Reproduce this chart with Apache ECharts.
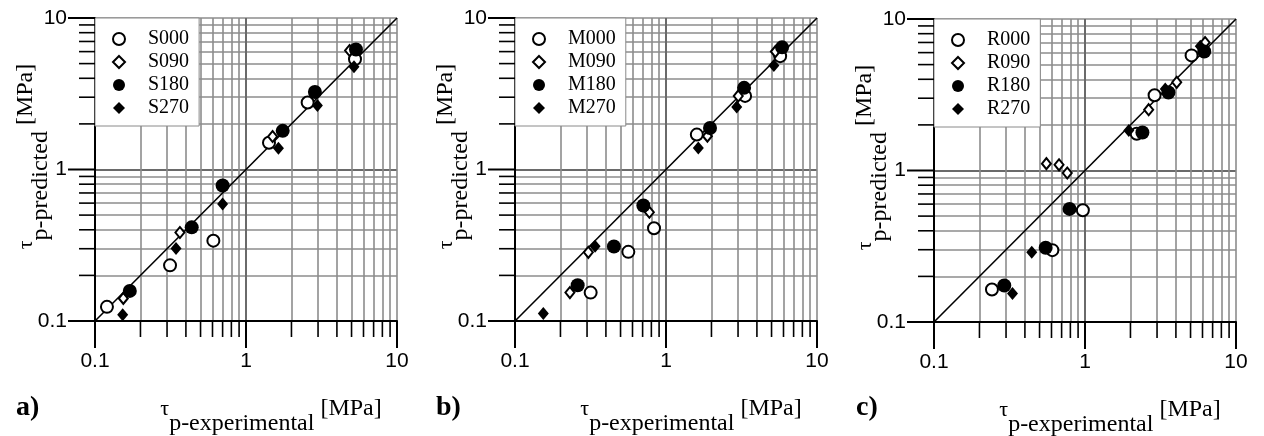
<!DOCTYPE html>
<html>
<head>
<meta charset="utf-8">
<script src="https://cdn.jsdelivr.net/npm/echarts@6/dist/echarts.min.js"></script>
<style>
  html, body { margin: 0; padding: 0; background: #ffffff; }
  #chart { width: 1264px; height: 436px; }
</style>
</head>
<body>
<div id="chart"></div>
<script>
// Log-paper tick positions shared by every panel
const majorTicks = [0.1, 1, 10];
const minorTicks = [0.2, 0.3, 0.4, 0.5, 0.6, 0.7, 0.8, 0.9, 2, 3, 4, 5, 6, 7, 8, 9, 10];
// Line of perfect agreement, predicted = experimental
const diagonal = [0.1, 10];

// Panel a) - S specimens, [experimental, predicted] in MPa
const S000 = [[0.12, 0.124], [0.314, 0.233], [0.608, 0.339], [1.42, 1.5], [2.56, 2.77], [5.27, 5.35]];
const S090 = [[0.154, 0.141], [0.365, 0.384], [1.5, 1.65], [4.85, 6.1]];
const S180 = [[0.17, 0.158], [0.437, 0.415], [0.7, 0.784], [1.75, 1.8], [2.86, 3.25], [5.35, 6.2]];
const S270 = [[0.1525, 0.11], [0.344, 0.301], [0.7, 0.593], [1.64, 1.38], [2.97, 2.65], [5.19, 4.76]];

// Panel b) - M specimens
const M000 = [[0.317, 0.154], [0.563, 0.286], [0.833, 0.409], [1.6, 1.7], [3.34, 3.06], [5.7, 5.6]];
const M090 = [[0.231, 0.154], [0.306, 0.284], [0.776, 0.522], [1.88, 1.66], [3.01, 3.06], [5.3, 6.0]];
const M180 = [[0.26, 0.172], [0.452, 0.31], [0.708, 0.578], [1.956, 1.878], [3.29, 3.46], [5.87, 6.4]];
const M270 = [[0.154, 0.112], [0.339, 0.311], [1.637, 1.384], [2.94, 2.59], [5.18, 4.85]];

// Panel c) - R specimens
const R000 = [[0.242, 0.164], [0.608, 0.298], [0.968, 0.547], [2.2, 1.75], [2.89, 3.14], [5.08, 5.75]];
const R090 = [[0.555, 1.11], [0.673, 1.09], [0.763, 0.963], [2.64, 2.52], [4.05, 3.82], [6.24, 7.0]];
const R180 = [[0.292, 0.174], [0.549, 0.309], [0.79, 0.558], [2.4, 1.78], [3.57, 3.27], [6.16, 6.1]];
const R270 = [[0.331, 0.1545], [0.444, 0.289], [1.95, 1.84], [3.4, 3.45], [5.8, 6.6]];

const panelLabels = ['a)', 'b)', 'c)'];
const seriesNames = [
  ['S000', 'S090', 'S180', 'S270'],
  ['M000', 'M090', 'M180', 'M270'],
  ['R000', 'R090', 'R180', 'R270']
];
const seriesData = [
  [S000, S090, S180, S270],
  [M000, M090, M180, M270],
  [R000, R090, R180, R270]
];

const SERIF = 'Liberation Serif';
const SANS = 'Liberation Sans';

// Plot-area placement of the three panels
const layout = [
  { left: 95, top: 18, labelLeft: 16 },
  { left: 515, top: 18, labelLeft: 436 },
  { left: 934, top: 19, labelLeft: 856 }
];
const PLOT_W = 302, PLOT_H = 303;
const MAJOR_TICK = 27, MINOR_TICK = 16;

// Marker per loading direction: open circle, open diamond, filled circle, filled diamond
const markers = [
  { symbol: 'circle', symbolSize: 12, itemStyle: { color: '#ffffff', borderColor: '#000000', borderWidth: 2, opacity: 1 } },
  { symbol: 'diamond', symbolSize: [9, 11], itemStyle: { color: '#ffffff', borderColor: '#000000', borderWidth: 2, opacity: 1 } },
  { symbol: 'circle', symbolSize: 14, itemStyle: { color: '#000000', opacity: 1 } },
  { symbol: 'diamond', symbolSize: [11, 13], itemStyle: { color: '#000000', opacity: 1 } }
];

const tickFormatter = v => String(+Number(v).toPrecision(3));

// Subscripted axis title: "τ" and "[MPa]" sit higher than the subscript text
function nameStyle(shift) {
  return {
    fontFamily: SERIF,
    color: '#000000',
    padding: [0, 0, 0, shift],
    rich: {
      t: { fontFamily: SERIF, fontSize: 22, lineHeight: 26, padding: [0, 0, 30, 0], color: '#000000' },
      s: { fontFamily: SERIF, fontSize: 24, lineHeight: 26, color: '#000000' },
      u: { fontFamily: SERIF, fontSize: 24, lineHeight: 26, padding: [0, 0, 30, 0], color: '#000000' }
    }
  };
}

function majorAxis(gridIndex, position, isX) {
  return {
    type: 'log', logBase: 10, gridIndex, position, min: 0.1, max: 10,
    axisLine: { show: true, onZero: false, lineStyle: { color: '#000000', width: 2 } },
    axisTick: { show: false },
    axisLabel: {
      show: true, margin: isX ? 30 : 28,
      fontFamily: SANS, fontSize: 21, color: '#000000', formatter: tickFormatter
    },
    splitLine: { show: true, showMinLine: false, showMaxLine: false, lineStyle: { color: '#6a6a6a', width: 2 } },
    name: isX ? '{t|τ}{s|p-experimental}{u| [MPa]}' : '{t|τ}{s|p-predicted}{u| [MPa]}',
    nameLocation: 'middle',
    nameMoveOverlap: false,
    nameGap: isX ? 90 : 41,
    nameTextStyle: nameStyle(isX ? 50 : 26)
  };
}

function minorAxis(gridIndex, position) {
  return {
    type: 'log', logBase: 10, gridIndex, position, min: 0.1, max: 10,
    axisLine: { show: false, onZero: false },
    axisTick: { show: false, customValues: minorTicks },
    axisLabel: { show: false },
    splitLine: { show: true, lineStyle: { color: '#8c8c8c', width: 1.6 } }
  };
}

const grid = [], xAxis = [], yAxis = [], legend = [], title = [], series = [];
const diagonalSeriesIndex = [];

layout.forEach((p, i) => {
  grid.push({
    left: p.left, top: p.top, width: PLOT_W, height: PLOT_H,
    containLabel: false, outerBoundsMode: 'none'
  });
  xAxis.push(minorAxis(i, 'bottom'), majorAxis(i, 'bottom', true));
  yAxis.push(minorAxis(i, 'left'), majorAxis(i, 'left', false));

  legend.push({
    left: p.left, top: p.top, orient: 'vertical',
    data: seriesNames[i],
    itemWidth: 12, itemHeight: 12, itemGap: 3,
    symbolKeepAspect: true,
    padding: [11, 10, 8, 17],
    backgroundColor: '#ffffff', borderColor: '#8a8a8a', borderWidth: 1,
    selectedMode: false,
    textStyle: { fontFamily: SERIF, fontSize: 20, lineHeight: 20, color: '#000000', padding: [0, 0, 0, 18] }
  });

  title.push({
    text: panelLabels[i], left: p.labelLeft, top: 394, padding: 0,
    textStyle: { fontFamily: SERIF, fontWeight: 'bold', fontSize: 28, color: '#000000' }
  });

  const ai = 2 * i + 1;
  diagonalSeriesIndex.push(series.length);
  series.push({
    type: 'line', xAxisIndex: ai, yAxisIndex: ai,
    data: diagonal.map(v => [v, v]),
    symbol: 'none', silent: true, z: 1,
    lineStyle: { color: '#000000', width: 1.6 }
  });
  seriesNames[i].forEach((name, k) => {
    series.push(Object.assign({
      type: 'scatter', name, xAxisIndex: ai, yAxisIndex: ai,
      data: seriesData[i][k], z: 3
    }, markers[k]));
  });
});

const chart = echarts.init(document.getElementById('chart'), null, { renderer: 'canvas' });
chart.setOption({
  animation: false,
  backgroundColor: '#ffffff',
  grid, xAxis, yAxis, legend, title, series
});

// Outward tick marks on the x and y axes, positioned through each panel's log scales
const tickValues = majorTicks.concat(minorTicks.filter(v => majorTicks.indexOf(v) < 0));
const tickMarks = [];
diagonalSeriesIndex.forEach(seriesIndex => {
  tickValues.forEach(v => {
    const major = majorTicks.indexOf(v) >= 0;
    const len = major ? MAJOR_TICK : MINOR_TICK;
    const style = { stroke: '#000000', lineWidth: major ? 2 : 1.6 };
    const bx = chart.convertToPixel({ seriesIndex }, [v, 0.1]);
    const ly = chart.convertToPixel({ seriesIndex }, [0.1, v]);
    tickMarks.push({ type: 'line', silent: true, z: 10, shape: { x1: bx[0], y1: bx[1], x2: bx[0], y2: bx[1] + len }, style });
    tickMarks.push({ type: 'line', silent: true, z: 10, shape: { x1: ly[0], y1: ly[1], x2: ly[0] - len, y2: ly[1] }, style });
  });
});
chart.setOption({ graphic: { elements: tickMarks } });
</script>
</body>
</html>
